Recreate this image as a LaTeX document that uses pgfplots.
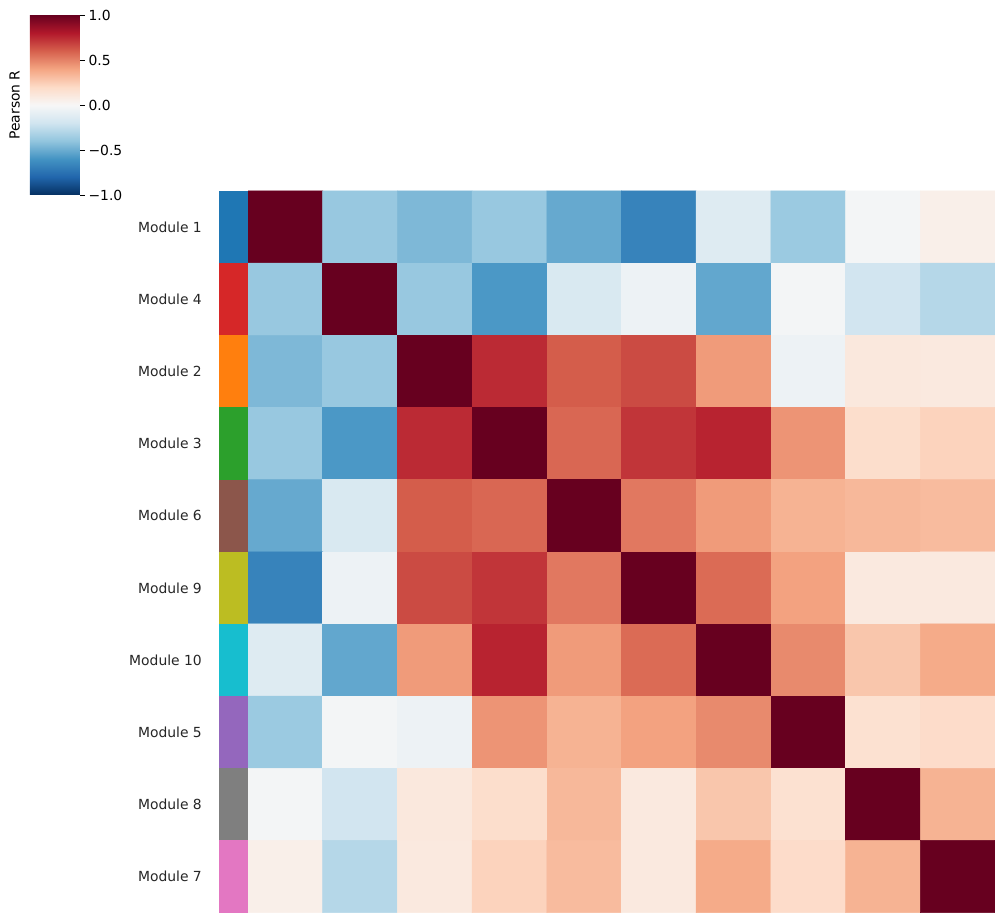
\documentclass[border=0pt]{standalone}
\usepackage{pgfplots}
\pgfplotsset{compat=1.18}
\usepackage{fontspec}
\setmainfont{DejaVu Sans}
\definecolor{t1}{HTML}{1F77B4}
\definecolor{t2}{HTML}{D62728}
\definecolor{t3}{HTML}{FF7F0E}
\definecolor{t4}{HTML}{2CA02C}
\definecolor{t5}{HTML}{8C564B}
\definecolor{t6}{HTML}{BCBD22}
\definecolor{t7}{HTML}{17BECF}
\definecolor{t8}{HTML}{9467BD}
\definecolor{t9}{HTML}{7F7F7F}
\definecolor{t10}{HTML}{E377C2}
\pgfplotsset{colormap={rdbur}{rgb255=(5,48,97) rgb255=(33,102,172) rgb255=(67,147,195) rgb255=(146,197,222) rgb255=(209,229,240) rgb255=(247,247,247) rgb255=(253,219,199) rgb255=(244,165,130) rgb255=(214,96,77) rgb255=(178,24,43) rgb255=(103,0,31)}}
\begin{document}
\begin{tikzpicture}[font=\fontsize{10}{12}\selectfont]
\begin{axis}[name=main, scale only axis, width=537.8pt, height=519.6pt,
  xmin=-0.5, xmax=9.5, ymin=-0.5, ymax=9.5, y dir=reverse,
  axis line style={draw=none}, xtick=\empty, ytick=\empty,
  colormap name=rdbur, point meta min=-1, point meta max=1,
  colorbar,
  colorbar/width=36pt,
  colorbar shift/.style={xshift=-157pt, yshift=126.7pt},
  colorbar style={
    at={(parent axis.north west)}, anchor=north west,
    scale only axis, height=129.6pt,
    axis line style={draw=none},
    ytick={-1,-0.5,0,0.5,1}, yticklabels={−1.0,−0.5,0.0,0.5,1.0},
    yticklabel pos=right, ytick pos=right, tick align=outside, major tick length=3.5pt,
    ytick style={black, line width=0.58pt},
    yticklabel style={font=\fontsize{10}{12}\selectfont, inner sep=0pt, xshift=2.5pt},
    ylabel={Pearson R},
    ylabel style={at={(axis description cs:0,0.5)}, anchor=south, inner sep=0pt, yshift=7.2pt, font=\fontsize{10}{12}\selectfont},
  },
]
\addplot[matrix plot*, mesh/cols=10, point meta=explicit] coordinates {
(0,0) [1] (1,0) [-0.38] (2,0) [-0.45] (3,0) [-0.38] (4,0) [-0.51] (5,0) [-0.67] (6,0) [-0.13] (7,0) [-0.37] (8,0) [-0.02] (9,0) [0.06]
(0,1) [-0.38] (1,1) [1] (2,1) [-0.38] (3,1) [-0.58] (4,1) [-0.16] (5,1) [-0.05] (6,1) [-0.52] (7,1) [-0.02] (8,1) [-0.195] (9,1) [-0.29]
(0,2) [-0.45] (1,2) [-0.38] (2,2) [1] (3,2) [0.75] (4,2) [0.61] (5,2) [0.66] (6,2) [0.43] (7,2) [-0.05] (8,2) [0.107] (9,2) [0.1]
(0,3) [-0.38] (1,3) [-0.58] (2,3) [0.75] (3,3) [1] (4,3) [0.58] (5,3) [0.72] (6,3) [0.77] (7,3) [0.45] (8,3) [0.18] (9,3) [0.23]
(0,4) [-0.51] (1,4) [-0.16] (2,4) [0.61] (3,4) [0.58] (4,4) [1] (5,4) [0.53] (6,4) [0.43] (7,4) [0.35] (8,4) [0.33] (9,4) [0.32]
(0,5) [-0.67] (1,5) [-0.05] (2,5) [0.66] (3,5) [0.72] (4,5) [0.53] (5,5) [1] (6,5) [0.57] (7,5) [0.41] (8,5) [0.1] (9,5) [0.1]
(0,6) [-0.13] (1,6) [-0.52] (2,6) [0.43] (3,6) [0.77] (4,6) [0.43] (5,6) [0.57] (6,6) [1] (7,6) [0.48] (8,6) [0.28] (9,6) [0.38]
(0,7) [-0.37] (1,7) [-0.02] (2,7) [-0.05] (3,7) [0.45] (4,7) [0.35] (5,7) [0.41] (6,7) [0.48] (7,7) [1] (8,7) [0.16] (9,7) [0.19]
(0,8) [-0.02] (1,8) [-0.195] (2,8) [0.107] (3,8) [0.18] (4,8) [0.33] (5,8) [0.1] (6,8) [0.28] (7,8) [0.16] (8,8) [1] (9,8) [0.35]
(0,9) [0.06] (1,9) [-0.29] (2,9) [0.1] (3,9) [0.23] (4,9) [0.32] (5,9) [0.1] (6,9) [0.38] (7,9) [0.19] (8,9) [0.35] (9,9) [1]
};
\end{axis}
\begin{axis}[name=strip, at={(main.south west)}, anchor=south east,
  scale only axis, width=20.9pt, height=519.6pt,
  xmin=0, xmax=1, ymin=-0.5, ymax=9.5, y dir=reverse,
  axis line style={draw=none}, xtick=\empty,
  ytick={0,1,2,3,4,5,6,7,8,9},
  yticklabels={Module 1,Module 4,Module 2,Module 3,Module 6,Module 9,Module 10,Module 5,Module 8,Module 7},
  major tick length=0pt,
  yticklabel style={anchor=east, inner sep=0pt, xshift=-12.2pt, text=black!85},
]
\addplot[draw=none, fill=t1] coordinates {(0,-0.5) (1,-0.5) (1,0.5) (0,0.5)} -- cycle;
\addplot[draw=none, fill=t2] coordinates {(0,0.5) (1,0.5) (1,1.5) (0,1.5)} -- cycle;
\addplot[draw=none, fill=t3] coordinates {(0,1.5) (1,1.5) (1,2.5) (0,2.5)} -- cycle;
\addplot[draw=none, fill=t4] coordinates {(0,2.5) (1,2.5) (1,3.5) (0,3.5)} -- cycle;
\addplot[draw=none, fill=t5] coordinates {(0,3.5) (1,3.5) (1,4.5) (0,4.5)} -- cycle;
\addplot[draw=none, fill=t6] coordinates {(0,4.5) (1,4.5) (1,5.5) (0,5.5)} -- cycle;
\addplot[draw=none, fill=t7] coordinates {(0,5.5) (1,5.5) (1,6.5) (0,6.5)} -- cycle;
\addplot[draw=none, fill=t8] coordinates {(0,6.5) (1,6.5) (1,7.5) (0,7.5)} -- cycle;
\addplot[draw=none, fill=t9] coordinates {(0,7.5) (1,7.5) (1,8.5) (0,8.5)} -- cycle;
\addplot[draw=none, fill=t10] coordinates {(0,8.5) (1,8.5) (1,9.5) (0,9.5)} -- cycle;
\end{axis}
\pgfresetboundingbox
\path ([xshift=-178.6pt,yshift=-7.4pt]main.south west) rectangle ([xshift=6.5pt,yshift=137.5pt]main.north east);
\end{tikzpicture}
\end{document}
